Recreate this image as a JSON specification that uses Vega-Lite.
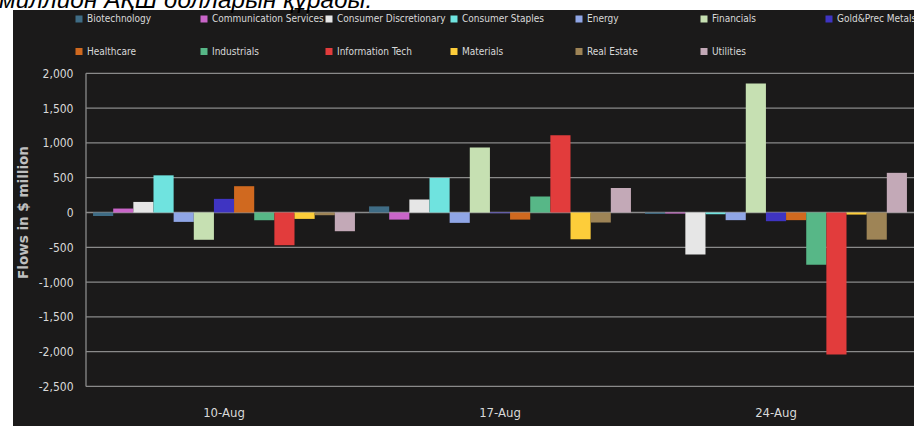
{
  "$schema": "https://vega.github.io/schema/vega-lite/v6.json",
  "width": 901,
  "height": 416,
  "autosize": {"type": "none"},
  "padding": {"left": 13, "top": 10, "right": 0, "bottom": 0},
  "background": "#ffffff",
  "title": {
    "text": "миллион АҚШ долларын құрады.",
    "orient": "top",
    "anchor": "start",
    "frame": "group",
    "offset": -22,
    "dx": -14,
    "baseline": "alphabetic",
    "font": "Liberation Sans",
    "fontStyle": "italic",
    "fontWeight": "normal",
    "fontSize": 24.4,
    "color": "#000000"
  },
  "config": {
    "view": {"fill": "#1b1a1a", "stroke": null},
    "axisX": {
      "orient": "bottom", "offset": -40, "title": null, "labelAngle": 0,
      "ticks": false, "domain": false, "grid": false, "labelPadding": 20,
      "labelFont": "DejaVu Sans Condensed", "labelFontSize": 13, "labelColor": "#d9d9d9"
    },
    "axisY": {
      "orient": "left", "offset": -73,
      "grid": false, "ticks": false, "domain": false, "labelPadding": 13,
      "labelFont": "DejaVu Sans Condensed", "labelFontSize": 12, "labelColor": "#d9d9d9",
      "titleFont": "DejaVu Sans", "titleFontWeight": "bold", "titleFontSize": 13.5,
      "titleColor": "#bfbfbf", "titleX": -63, "titleY": 202, "titleBaseline": "middle", "titleAngle": 270
    },
    "legend": {
      "orient": "none",
      "legendX": 61,
      "legendY": 4,
      "columns": 7,
      "direction": "horizontal",
      "gridAlign": "all",
      "columnPadding": 0,
      "rowPadding": 22.5,
      "padding": 0,
      "symbolType": "square",
      "symbolSize": 49,
      "symbolStrokeWidth": 0,
      "labelOffset": 3,
      "labelFont": "DejaVu Sans Condensed",
      "labelFontSize": 10,
      "labelColor": "#d9d9d9",
      "labelLimit": 130
    }
  },
  "datasets": {
    "flows": [
      {"week": "10-Aug", "sector": "Biotechnology", "flow": -49},
      {"week": "10-Aug", "sector": "Communication Services", "flow": 57},
      {"week": "10-Aug", "sector": "Consumer Discretionary", "flow": 152},
      {"week": "10-Aug", "sector": "Consumer Staples", "flow": 534},
      {"week": "10-Aug", "sector": "Energy", "flow": -135},
      {"week": "10-Aug", "sector": "Financials", "flow": -392},
      {"week": "10-Aug", "sector": "Gold&Prec Metals", "flow": 196},
      {"week": "10-Aug", "sector": "Healthcare", "flow": 378},
      {"week": "10-Aug", "sector": "Industrials", "flow": -111},
      {"week": "10-Aug", "sector": "Information Tech", "flow": -470},
      {"week": "10-Aug", "sector": "Materials", "flow": -92},
      {"week": "10-Aug", "sector": "Real Estate", "flow": -39},
      {"week": "10-Aug", "sector": "Utilities", "flow": -269},
      {"week": "17-Aug", "sector": "Biotechnology", "flow": 88},
      {"week": "17-Aug", "sector": "Communication Services", "flow": -102},
      {"week": "17-Aug", "sector": "Consumer Discretionary", "flow": 187},
      {"week": "17-Aug", "sector": "Consumer Staples", "flow": 497},
      {"week": "17-Aug", "sector": "Energy", "flow": -149},
      {"week": "17-Aug", "sector": "Financials", "flow": 933},
      {"week": "17-Aug", "sector": "Gold&Prec Metals", "flow": -10},
      {"week": "17-Aug", "sector": "Healthcare", "flow": -102},
      {"week": "17-Aug", "sector": "Industrials", "flow": 230},
      {"week": "17-Aug", "sector": "Information Tech", "flow": 1110},
      {"week": "17-Aug", "sector": "Materials", "flow": -385},
      {"week": "17-Aug", "sector": "Real Estate", "flow": -144},
      {"week": "17-Aug", "sector": "Utilities", "flow": 352},
      {"week": "24-Aug", "sector": "Biotechnology", "flow": -20},
      {"week": "24-Aug", "sector": "Communication Services", "flow": -15},
      {"week": "24-Aug", "sector": "Consumer Discretionary", "flow": -603},
      {"week": "24-Aug", "sector": "Consumer Staples", "flow": -25},
      {"week": "24-Aug", "sector": "Energy", "flow": -110},
      {"week": "24-Aug", "sector": "Financials", "flow": 1855},
      {"week": "24-Aug", "sector": "Gold&Prec Metals", "flow": -125},
      {"week": "24-Aug", "sector": "Healthcare", "flow": -110},
      {"week": "24-Aug", "sector": "Industrials", "flow": -750},
      {"week": "24-Aug", "sector": "Information Tech", "flow": -2040},
      {"week": "24-Aug", "sector": "Materials", "flow": -30},
      {"week": "24-Aug", "sector": "Real Estate", "flow": -390},
      {"week": "24-Aug", "sector": "Utilities", "flow": 570}
    ],
    "gridlines": [
      {"level": -2500}, {"level": -2000}, {"level": -1500}, {"level": -1000},
      {"level": -500}, {"level": 0}, {"level": 500}, {"level": 1000},
      {"level": 1500}, {"level": 2000}
    ]
  },
  "layer": [
    {
      "data": {"name": "gridlines"},
      "mark": {"type": "rule", "color": "#8a8a8a", "strokeWidth": 1.3},
      "encoding": {
        "y": {"field": "level", "type": "quantitative",
              "scale": {"domain": [-3068, 2910], "nice": false, "zero": false},
              "axis": {
                "values": [-2500, -2000, -1500, -1000, -500, 0, 500, 1000, 1500, 2000],
                "format": ",d",
                "labelExpr": "replace(datum.label, '\u2212', '-')",
                "title": "Flows in $ million"
              }},
        "x": {"datum": "10-Aug", "type": "nominal", "bandPosition": 0,
              "scale": {"domain": ["10-Aug", "17-Aug", "24-Aug"], "range": [73, 901], "paddingInner": 0, "paddingOuter": 0}},
        "x2": {"datum": "24-Aug", "bandPosition": 1}
      }
    },
    {
      "data": {"name": "gridlines"},
      "transform": [{"aggregate": [{"op": "min", "field": "level", "as": "lo"}, {"op": "max", "field": "level", "as": "hi"}]}],
      "mark": {"type": "rule", "color": "#8a8a8a", "strokeWidth": 1.3},
      "encoding": {
        "y": {"field": "lo", "type": "quantitative"},
        "y2": {"field": "hi"},
        "x": {"datum": "10-Aug", "type": "nominal", "bandPosition": 0}
      }
    },
    {
      "data": {"name": "flows"},
      "mark": {"type": "bar"},
      "encoding": {
        "x": {"field": "week", "type": "nominal", "sort": null},
        "xOffset": {
          "field": "sector", "type": "nominal", "sort": null,
          "scale": {"paddingInner": 0, "paddingOuter": 0.35}
        },
        "y": {
          "field": "flow", "type": "quantitative",
          "axis": {
            "values": [-2500, -2000, -1500, -1000, -500, 0, 500, 1000, 1500, 2000],
            "format": ",d",
            "labelExpr": "replace(datum.label, '\u2212', '-')",
            "title": "Flows in $ million"
          }
        },
        "color": {
          "field": "sector", "type": "nominal", "sort": null, "title": null,
          "scale": {
            "domain": ["Biotechnology", "Communication Services", "Consumer Discretionary", "Consumer Staples", "Energy", "Financials", "Gold&Prec Metals", "Healthcare", "Industrials", "Information Tech", "Materials", "Real Estate", "Utilities"],
            "range": ["#3f6c85", "#c965c8", "#e6e6e6", "#6fe3df", "#90a6e6", "#c6e0b2", "#3f34c2", "#d0691f", "#57b787", "#e23c3c", "#fdcd3a", "#9e8456", "#c3a9b7"]
          }
        }
      }
    }
  ]
}
